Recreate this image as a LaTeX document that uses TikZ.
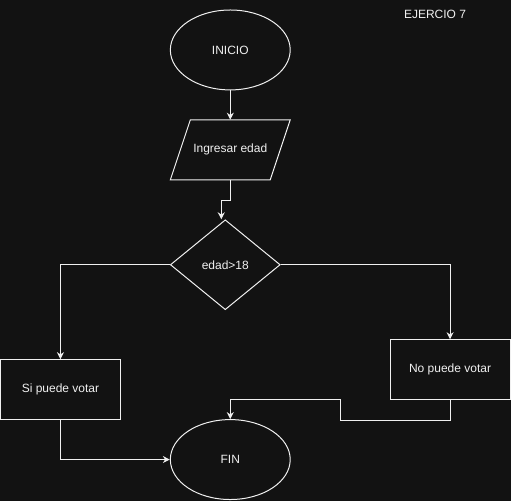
\documentclass[tikz,border=0pt]{standalone}
\usepackage{fontspec}
\setmainfont{Liberation Sans}
\usetikzlibrary{shapes.geometric, arrows.meta}
\definecolor{fondo}{RGB}{18,18,18}
\definecolor{trazo}{RGB}{240,240,240}
\begin{document}
\begin{tikzpicture}[x=1pt, y=-1pt, font=\fontsize{12}{14}\selectfont,
    every node/.style={text=trazo},
    linea/.style={draw=trazo, line width=1pt},
    flecha/.style={linea, -{Stealth[length=7pt, width=7pt]}}]
          \fill [fondo] (0, 0) rectangle (511, 501);
          \node (titulo) at (435, 14) {EJERCIO 7};
          \node [ellipse, linea, minimum width=120, minimum height=80] (inicio) at (230, 50) {INICIO};
          \draw [linea] (190, 120) -- (290, 120) -- (270, 180) -- (170, 180) -- cycle;
          \node [minimum width=100, minimum height=60] (ingresar) at (230, 150) {Ingresar edad};
          \node [diamond, linea, inner sep=0pt, minimum width=110, minimum height=90] (decision) at (225, 265) {edad>18};
          \node [rectangle, linea, minimum width=120, minimum height=60] (si) at (60, 390) {Si puede votar};
          \node [rectangle, linea, minimum width=120, minimum height=60] (no) at (450, 370) {No puede votar};
          \node [ellipse, linea, minimum width=120, minimum height=80] (fin) at (230, 460) {FIN};
          \coordinate (codo) at (340, 400);
          \draw [flecha] (inicio) -- (ingresar);
          \draw [flecha] (ingresar.south) -- ++(0, 20) -| ([xshift=-4]decision.north);
          \draw [flecha] (decision.west) -| (si.north);
          \draw [flecha] (decision.east) -| (no.north);
          \draw [flecha] (si.south) |- (fin.west);
          \draw [flecha] (no.south) -- ++(0, 20) -| (codo) -| (fin.north);
        \end{tikzpicture}
\end{document}
